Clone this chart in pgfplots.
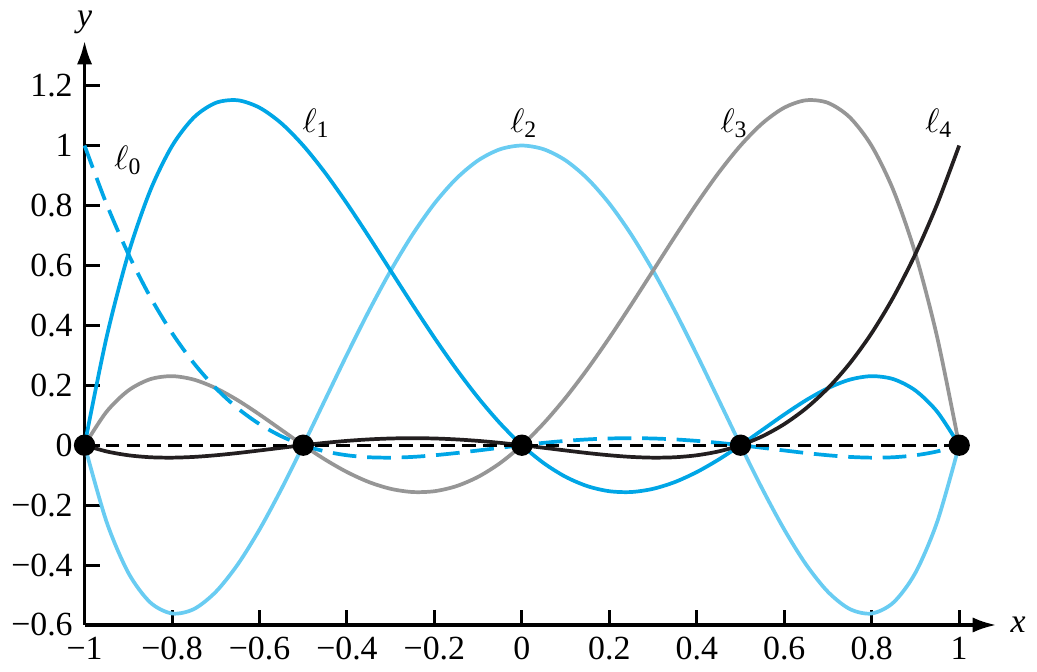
\documentclass[border=0pt]{standalone}
\usepackage{fontspec}
\setmainfont{Liberation Serif}
\usepackage{pgfplots}
\pgfplotsset{compat=1.18}
\usepackage{pgfplotstable}
\usetikzlibrary{arrows.meta}
\definecolor{bblue}{RGB}{0,166,230}
\definecolor{lblue}{RGB}{105,204,242}
\definecolor{mgray}{RGB}{150,150,150}
\definecolor{dblack}{RGB}{35,31,32}
\pgfplotstableread{
x l0 l1 l2 l3 l4
-1 1 0 0 0 0
-0.95 0.8058 0.3582 -0.2545 0.1112 -0.0207
-0.9 0.6384 0.6384 -0.4256 0.1824 -0.0336
-0.85 0.4953 0.8491 -0.5245 0.2202 -0.0402
-0.8 0.3744 0.9984 -0.5616 0.2304 -0.0416
-0.75 0.2734 1.0938 -0.5469 0.2188 -0.0391
-0.7 0.1904 1.1424 -0.4896 0.1904 -0.0336
-0.65 0.1233 1.1511 -0.3985 0.1502 -0.0262
-0.6 0.0704 1.1264 -0.2816 0.1024 -0.0176
-0.55 0.0298 1.0742 -0.1465 0.0512 -0.0087
-0.5 0 1.0 0 0 0
-0.45 -0.0207 0.9092 0.1515 -0.0479 0.0078
-0.4 -0.0336 0.8064 0.3024 -0.0896 0.0144
-0.35 -0.0402 0.6962 0.4475 -0.1229 0.0193
-0.3 -0.0416 0.5824 0.5824 -0.1456 0.0224
-0.25 -0.0391 0.4688 0.7031 -0.1563 0.0234
-0.2 -0.0336 0.3584 0.8064 -0.1536 0.0224
-0.15 -0.0262 0.2542 0.8895 -0.1368 0.0193
-0.1 -0.0176 0.1584 0.9504 -0.1056 0.0144
-0.05 -0.0087 0.0732 0.9875 -0.0599 0.0078
0 0 0 1 0 0
0.05 0.0078 -0.0599 0.9875 0.0732 -0.0087
0.1 0.0144 -0.1056 0.9504 0.1584 -0.0176
0.15 0.0193 -0.1368 0.8895 0.2542 -0.0262
0.2 0.0224 -0.1536 0.8064 0.3584 -0.0336
0.25 0.0234 -0.1563 0.7031 0.4688 -0.0391
0.3 0.0224 -0.1456 0.5824 0.5824 -0.0416
0.35 0.0193 -0.1229 0.4475 0.6962 -0.0402
0.4 0.0144 -0.0896 0.3024 0.8064 -0.0336
0.45 0.0078 -0.0479 0.1515 0.9092 -0.0207
0.5 0 0 0 1.0 0
0.55 -0.0087 0.0512 -0.1465 1.0742 0.0298
0.6 -0.0176 0.1024 -0.2816 1.1264 0.0704
0.65 -0.0262 0.1502 -0.3985 1.1511 0.1233
0.7 -0.0336 0.1904 -0.4896 1.1424 0.1904
0.75 -0.0391 0.2188 -0.5469 1.0938 0.2734
0.8 -0.0416 0.2304 -0.5616 0.9984 0.3744
0.85 -0.0402 0.2202 -0.5245 0.8491 0.4953
0.9 -0.0336 0.1824 -0.4256 0.6384 0.6384
0.95 -0.0207 0.1112 -0.2545 0.3582 0.8058
1 0 0 0 0 1
}\lagr
\newcommand{\ml}[1]{$\ell_{\mbox{\fontsize{7}{8}\selectfont #1}}$}
\begin{document}
\begin{tikzpicture}
\begin{axis}[
  x=129.3pt, y=88.6pt,
  xmin=-1, xmax=1.085, ymin=-0.6, ymax=1.35,
  enlargelimits=false, clip=false,
  axis lines=left,
  axis line style={line width=1pt, -{Latex[length=7pt,width=4.5pt]}},
  tick align=inside, major tick length=4.5pt,
  tick style={black, line width=0.9pt},
  /pgf/number format/assume math mode=true,
  xtick={-1,-0.8,-0.6,-0.4,-0.2,0,0.2,0.4,0.6,0.8,1},
  ytick={-0.6,-0.4,-0.2,0,0.2,0.4,0.6,0.8,1,1.2},
  xticklabels={−1,−0.8,−0.6,−0.4,−0.2,0,0.2,0.4,0.6,0.8,1},
  yticklabels={−0.6,−0.4,−0.2,0,0.2,0.4,0.6,0.8,1,1.2},
  every axis plot/.append style={line width=1.1pt, smooth},
]
\addplot[lblue] table[x=x,y=l2]{\lagr};
\addplot[mgray] table[x=x,y=l3]{\lagr};
\addplot[bblue] table[x=x,y=l1]{\lagr};
\addplot[bblue, dash pattern=on 7pt off 3.2pt] table[x=x,y=l0]{\lagr};
\addplot[dblack] table[x=x,y=l4]{\lagr};
\addplot[black, line width=1pt, dash pattern=on 4pt off 2.2pt, sharp plot] coordinates {(-1,0) (1,0)};
\addplot[only marks, mark=*, mark size=2.6pt, black] coordinates {(-1,0) (-0.5,0) (0,0) (0.5,0) (1,0)};
\node at (axis cs:-0.9,0.95) {\ml{0}};
\node at (axis cs:-0.47,1.075) {\ml{1}};
\node at (axis cs:0.005,1.075) {\ml{2}};
\node at (axis cs:0.486,1.075) {\ml{3}};
\node at (axis cs:0.954,1.075) {\ml{4}};
\node at (axis cs:1.135,-0.6) {\textit{x}};
\node at (axis cs:-1,1.41) {\textit{y}};
\end{axis}
\end{tikzpicture}
\end{document}
